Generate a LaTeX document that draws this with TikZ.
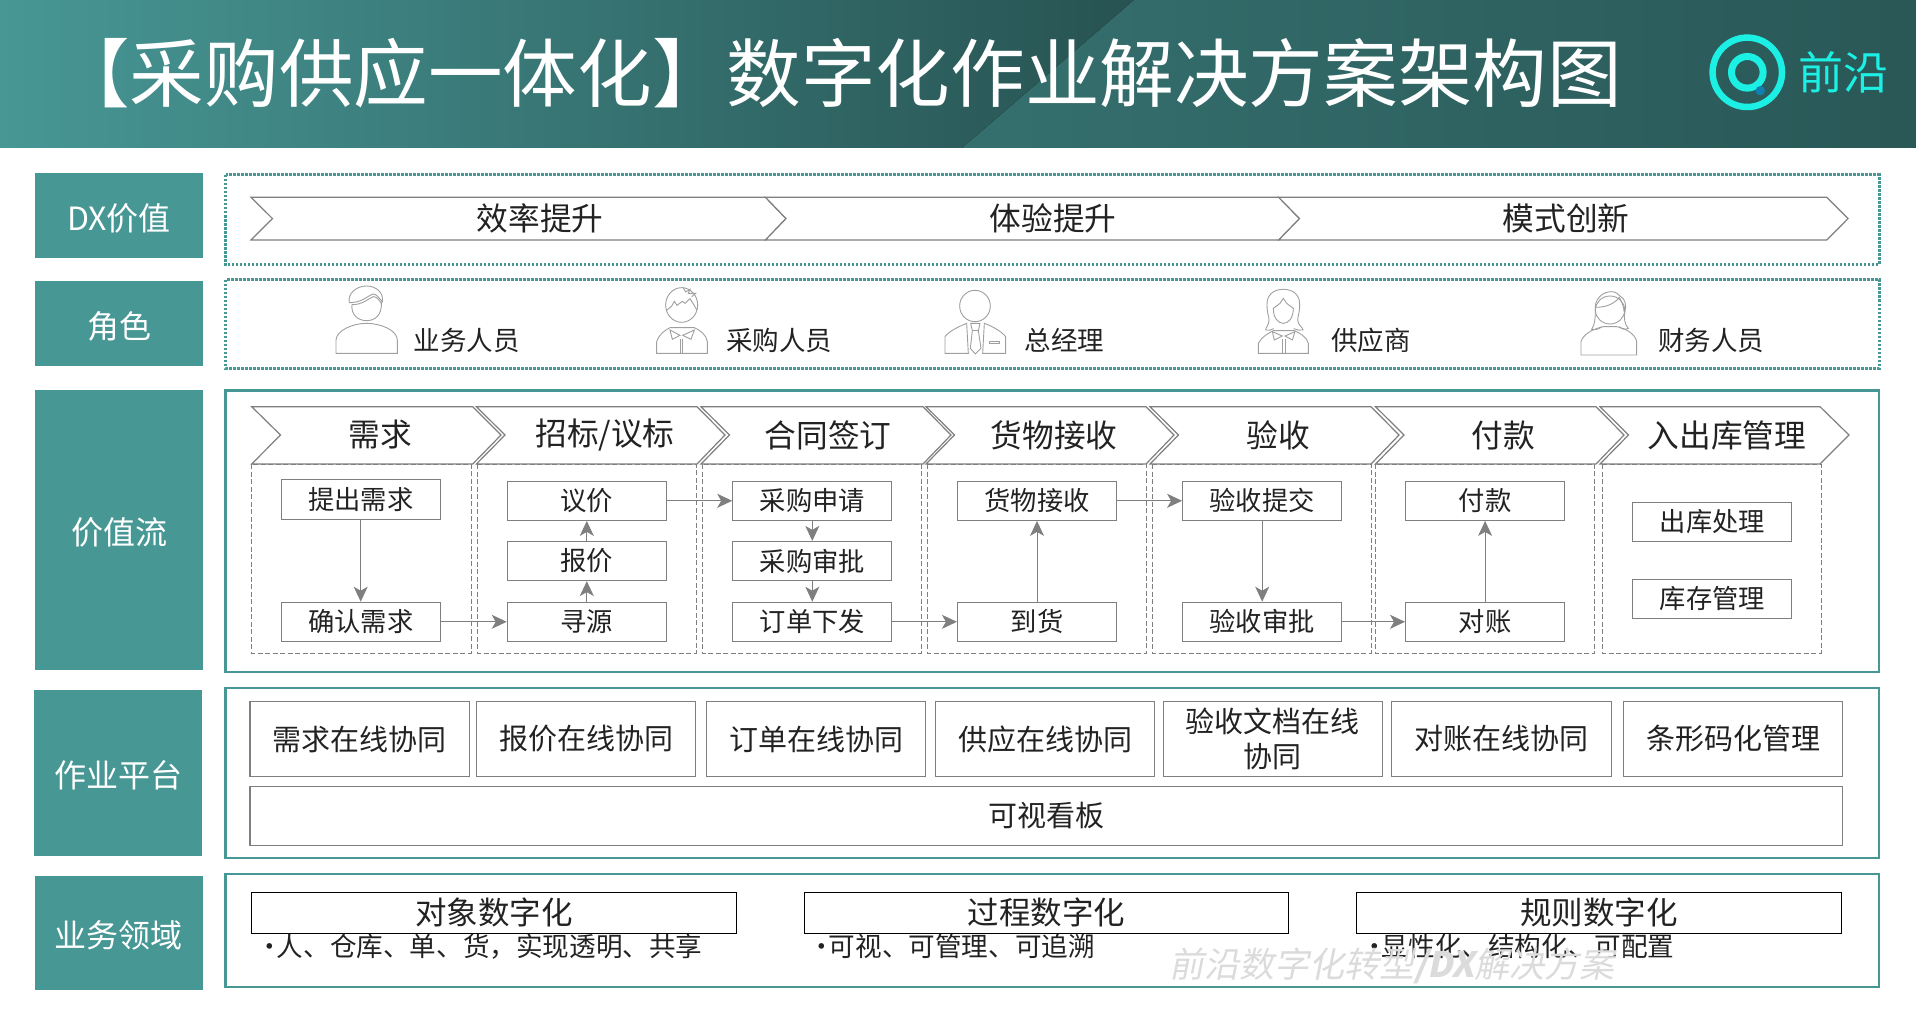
\documentclass[tikz,border=0pt]{standalone}
\usepackage{fontspec}
\setmainfont{Noto Sans CJK SC}
\newfontfamily\slantfont[FakeSlant=0.2]{Noto Sans CJK SC}
\usetikzlibrary{positioning,arrows.meta}
\definecolor{tealbox}{HTML}{479795}
\definecolor{cyanlogo}{HTML}{1CF0E4}
\definecolor{bluedot}{HTML}{1180B0}
\definecolor{linegray}{HTML}{7F7F7F}
\definecolor{inktext}{HTML}{222222}
\begin{document}
\begin{tikzpicture}[x=1pt,y=-1pt,
  rowlabel/.style={fill=tealbox,text=white,inner sep=0pt,minimum width=168pt,text height=32pt,text depth=3pt,font=\fontsize{32}{36}\selectfont},
  dotframe/.style={draw=tealbox,line width=3pt,dash pattern=on 2.5pt off 1.5pt},
  solidframe/.style={draw=tealbox,line width=2.5pt},
  chevron/.style={draw=linegray,line width=1.2pt,fill=white},
  headtext/.style={text=inktext,font=\fontsize{31.7}{36}\selectfont},
  roletext/.style={text=inktext,anchor=west,inner sep=0pt,font=\fontsize{26.5}{30}\selectfont},
  column/.style={draw=linegray,line width=0.8pt,dash pattern=on 5pt off 2.5pt},
  stepbox/.style={draw=linegray,line width=1.2pt,fill=white,text=inktext,inner sep=0pt,minimum width=159pt,minimum height=39pt,font=\fontsize{26.3}{30}\selectfont},
  flow/.style={draw=linegray,line width=1pt,-{Stealth[length=15pt,width=14pt,inset=4pt]}},
  platbox/.style={draw=linegray,line width=1.2pt,text=inktext,inner sep=0pt,minimum height=75.4pt,align=center,font=\fontsize{29}{35.7}\selectfont},
  domainbox/.style={draw=black,line width=1.3pt,text=inktext,inner sep=0pt,minimum width=485pt,minimum height=41pt,font=\fontsize{31.5}{36}\selectfont},
  bullettext/.style={text=inktext,anchor=west,inner sep=0pt,font=\fontsize{26.6}{30}\selectfont},
  person/.style={draw=gray!75,line width=0.9pt}]
\useasboundingbox (0,0) rectangle (1916,1019);
\fill[left color=tealbox,right color=tealbox!55!black] (0,0) -- (1134,0) -- (962,148) -- (0,148) -- cycle;
\fill[left color=tealbox!74!black,middle color=tealbox!58!black,right color=tealbox!58!black] (1134,0) -- (1916,0) -- (1916,148) -- (962,148) -- cycle;
\node[anchor=west,inner sep=0pt,text=white,font=\fontsize{74.6}{80}\selectfont] (title) at (55,73) {【采购供应一体化】数字化作业解决方案架构图};
\draw[cyanlogo,line width=6.5pt] (1747.3,72.3) circle (34.7pt);
\draw[cyanlogo,line width=7pt] (1747.3,72.3) circle (15.8pt);
\fill[bluedot] (1760.3,90.7) circle (4.7pt);
\node[inner sep=0pt,text=cyanlogo,font=\fontsize{45}{50}\selectfont] (brand) at (1843,72.7) {前沿};

\node[rowlabel,minimum height=85pt] (valuelabel) at (119,215.5) {DX价值};
\node[rowlabel,minimum height=85pt] (rolelabel) at (119,323.5) {角色};
\node[rowlabel,minimum height=280pt] (streamlabel) at (119,530) {价值流};
\node[rowlabel,minimum height=166pt] (platlabel) at (118,773) {作业平台};
\node[rowlabel,minimum height=114pt] (domainlabel) at (118.5,933) {业务领域};

\draw[dotframe] (225.5,175) rectangle (1879,264.7);
\draw[dotframe] (225.5,279.5) rectangle (1879,368);
\draw[solidframe] (225.5,390.7) rectangle (1879,672);
\draw[solidframe] (225.5,688) rectangle (1879,858);
\draw[solidframe] (225.5,874) rectangle (1879,987);

\draw[chevron] (251,197.3) -- (765.5,197.3) -- (786,218.6) -- (765.5,240) -- (251,240) -- (272.5,218.6) -- cycle;
\draw[chevron] (765.5,197.3) -- (1278.7,197.3) -- (1299.5,218.6) -- (1278.7,240) -- (765.5,240) -- (786,218.6) -- cycle;
\draw[chevron] (1278.7,197.3) -- (1826.8,197.3) -- (1848,218.6) -- (1826.8,240) -- (1278.7,240) -- (1299.5,218.6) -- cycle;
\node[headtext] (speed) at (540,218.6) {效率提升};
\node[headtext] (feel) at (1053,218.6) {体验提升};
\node[headtext] (mode) at (1566,218.6) {模式创新};

\begin{scope}[shift={(320,280)},x=0.3333pt,y=-0.3333pt]
\draw[person] (88,68) .. controls (82,40) and (110,18) .. (140,18) .. controls (170,18) and (192,40) .. (187,65) .. controls (178,55) and (168,40) .. (158,42) .. controls (140,50) and (125,68) .. (88,68) -- cycle;
\draw[person] (96,72) .. controls (92,105) and (115,122) .. (140,122) .. controls (165,122) and (187,105) .. (184,66);
\draw[person] (96,74) .. controls (130,74) and (145,55) .. (160,50) .. controls (170,50) and (178,60) .. (184,70);
\draw[person] (48,220) -- (48,180) .. controls (50,150) and (100,130) .. (140,130) .. controls (180,130) and (232,150) .. (232,180) -- (232,220) -- cycle;
\end{scope}
\node[roletext] (staff) at (413.5,340) {业务人员};

\begin{scope}[shift={(645,280)},x=0.3333pt,y=-0.3333pt]
\draw[person] (110,75) ellipse (48 and 52);
\draw[person] (114,22) -- (122,36) -- (135,28) -- (130,40) -- (152,40) -- (140,50);
\draw[person] (64,92) -- (80,78) -- (88,64) -- (96,76) -- (112,64) -- (120,70) -- (135,56) -- (156,90);
\draw[person] (35,220) -- (35,185) .. controls (40,165) and (60,150) .. (75,143) -- (148,143) .. controls (165,150) and (185,165) .. (187,185) -- (187,220) -- cycle;
\draw[person] (105,178) -- (105,220) (113,178) -- (113,220);
\draw[person] (75,150) -- (105,166) -- (82,178) -- cycle (148,150) -- (113,166) -- (138,178) -- cycle;
\end{scope}
\node[roletext] (buyer) at (726,340) {采购人员};

\begin{scope}[shift={(935,280)},x=0.3333pt,y=-0.3333pt]
\draw[person] (120,78) ellipse (46 and 47);
\draw[person] (95,130) -- (100,220) -- (30,220) -- (30,170) .. controls (40,155) and (70,140) .. (95,130) -- cycle;
\draw[person] (148,130) -- (143,220) -- (212,220) -- (212,170) .. controls (200,155) and (175,140) .. (148,130) -- cycle;
\draw[person] (107,130) -- (135,130) -- (130,152) -- (138,205) -- (121,222) -- (106,205) -- (112,152) -- cycle;
\draw[person] (112,152) -- (130,152);
\draw[person] (163,183) rectangle (193,190);
\end{scope}
\node[roletext] (manager) at (1024.6,340) {总经理};

\begin{scope}[shift={(1245,280)},x=0.3333pt,y=-0.3333pt]
\draw[person] (115,28) .. controls (85,28) and (65,45) .. (66,75) .. controls (66,100) and (72,110) .. (72,120) .. controls (72,135) and (62,142) .. (62,150) .. controls (70,152) and (80,150) .. (86,146);
\draw[person] (115,28) .. controls (145,28) and (165,45) .. (164,75) .. controls (164,100) and (158,110) .. (158,120) .. controls (158,135) and (174,142) .. (174,150) .. controls (166,152) and (155,150) .. (146,146);
\draw[person] (85,85) .. controls (85,115) and (100,130) .. (115,130) .. controls (130,130) and (145,115) .. (145,85) -- (125,70) -- (115,55) -- (105,70) -- cycle;
\draw[person] (40,220) -- (40,190) .. controls (50,170) and (70,160) .. (85,152) -- (148,152) .. controls (165,160) and (185,170) .. (190,190) -- (190,220) -- cycle;
\draw[person] (112,178) -- (112,220) (120,178) -- (120,220);
\draw[person] (82,155) -- (112,168) -- (88,180) -- cycle (150,155) -- (120,168) -- (142,180) -- cycle;
\end{scope}
\node[roletext] (supplier) at (1331,340) {供应商};

\begin{scope}[shift={(1570,280)},x=0.3333pt,y=-0.3333pt]
\draw[person] (76,90) .. controls (72,60) and (95,35) .. (125,35) .. controls (140,35) and (145,45) .. (150,48) .. controls (165,55) and (170,75) .. (165,95) .. controls (160,115) and (165,135) .. (175,145) .. controls (165,150) and (155,148) .. (148,140);
\draw[person] (76,90) .. controls (76,110) and (75,135) .. (65,148) .. controls (75,150) and (88,148) .. (95,140);
\draw[person] (120,90) ellipse (44 and 42);
\draw[person] (78,82) .. controls (110,82) and (135,70) .. (148,52) .. controls (155,65) and (162,80) .. (162,95);
\draw[person] (33,225) -- (33,185) .. controls (40,160) and (75,145) .. (100,140) -- (140,140) .. controls (165,145) and (195,160) .. (200,185) -- (200,225) -- cycle;
\end{scope}
\node[roletext] (finance) at (1658,340) {财务人员};

\draw[chevron] (251.7,406.7) -- (472.7,406.7) -- (501,435) -- (472.7,464) -- (251.7,464) -- (280.5,435) -- cycle;
\draw[chevron] (476.4,406.7) -- (697,406.7) -- (725,435) -- (697,464) -- (476.4,464) -- (505,435) -- cycle;
\draw[chevron] (701,406.7) -- (923,406.7) -- (951,435) -- (923,464) -- (701,464) -- (729.5,435) -- cycle;
\draw[chevron] (926,406.7) -- (1146,406.7) -- (1174,435) -- (1146,464) -- (926,464) -- (954.5,435) -- cycle;
\draw[chevron] (1150,406.7) -- (1371,406.7) -- (1399,435) -- (1371,464) -- (1150,464) -- (1178.5,435) -- cycle;
\draw[chevron] (1375.5,406.7) -- (1596,406.7) -- (1624,435) -- (1596,464) -- (1375.5,464) -- (1404,435) -- cycle;
\draw[chevron] (1600,406.7) -- (1820,406.7) -- (1849,435) -- (1820,464) -- (1600,464) -- (1628.5,435) -- cycle;
\node[headtext] (demand) at (380,435) {需求};
\node[headtext] (bidding) at (605,435) {招标/议标};
\node[headtext] (contract) at (828,435) {合同签订};
\node[headtext] (receipt) at (1054,435) {货物接收};
\node[headtext] (inspect) at (1278,435) {验收};
\node[headtext] (payment) at (1503,435) {付款};
\node[headtext] (stock) at (1727,435) {入出库管理};

\draw[column] (251.7,464) rectangle (471,653);
\draw[column] (477.6,464) rectangle (696,653);
\draw[column] (702.4,464) rectangle (921.6,653);
\draw[column] (927.7,464) rectangle (1146.4,653);
\draw[column] (1152.6,464) rectangle (1371,653);
\draw[column] (1375.5,464) rectangle (1594.7,653);
\draw[column] (1602.7,464) rectangle (1821,653);

\node[stepbox,minimum height=40pt] (raise) at (360.7,499.3) {提出需求};
\node[stepbox] (confirm) at (360.7,621.8) {确认需求};
\node[stepbox] (negotiate) at (586.8,500.8) {议价};
\node[stepbox] (quote) at (586.8,561) {报价};
\node[stepbox] (source) at (586.8,621.8) {寻源};
\node[stepbox] (request) at (812.3,500.8) {采购申请};
\node[stepbox] (approve) at (812.3,561) {采购审批};
\node[stepbox] (order) at (812.3,621.8) {订单下发};
\node[stepbox] (goods) at (1037,500.8) {货物接收};
\node[stepbox] (arrive) at (1037,621.8) {到货};
\node[stepbox] (submit) at (1262.2,500.8) {验收提交};
\node[stepbox] (review) at (1262.2,621.8) {验收审批};
\node[stepbox] (pay) at (1485.1,500.8) {付款};
\node[stepbox] (reconcile) at (1485.1,621.8) {对账};
\node[stepbox] (outbound) at (1712.3,522) {出库处理};
\node[stepbox] (inventory) at (1712.3,599) {库存管理};

\draw[flow] (raise) -- (confirm);
\draw[flow] (confirm) -- (source);
\draw[flow] (source) -- (quote);
\draw[flow] (quote) -- (negotiate);
\draw[flow] (negotiate) -- (request);
\draw[flow] (request) -- (approve);
\draw[flow] (approve) -- (order);
\draw[flow] (order) -- (arrive);
\draw[flow] (arrive) -- (goods);
\draw[flow] (goods) -- (submit);
\draw[flow] (submit) -- (review);
\draw[flow] (review) -- (reconcile);
\draw[flow] (reconcile) -- (pay);

\node[platbox,minimum width=219.7pt] (plat1) at (359.9,739) {需求在线协同};
\node[platbox,minimum width=219.3pt] (plat2) at (586,739) {报价在线协同};
\node[platbox,minimum width=218.6pt] (plat3) at (816,739) {订单在线协同};
\node[platbox,minimum width=218.7pt] (plat4) at (1045,739) {供应在线协同};
\node[platbox,minimum width=218.6pt] (plat5) at (1272.9,739) {验收文档在线\\协同};
\node[platbox,minimum width=219.8pt] (plat6) at (1501.3,739) {对账在线协同};
\node[platbox,minimum width=219.2pt] (plat7) at (1733.1,739) {条形码化管理};
\node[platbox,minimum width=1592.7pt,minimum height=58.6pt] (board) at (1046.3,816) {可视看板};

\node[domainbox] (objects) at (494.2,912.8) {对象数字化};
\node[domainbox,minimum width=484pt] (process) at (1046.5,912.8) {过程数字化};
\node[domainbox] (rules) at (1599,912.8) {规则数字化};
\node[bullettext] (objectnote) at (256,946.7) {•\hspace{-6pt}人、仓库、单、货，实现透明、共享};
\node[bullettext] (processnote) at (808,946.7) {•\hspace{-6pt}可视、可管理、可追溯};
\node[bullettext] (rulenote) at (1361,946.7) {•\hspace{-6pt}显性化、结构化、可配置};
\node[inner sep=0pt,text=gray!28,font=\slantfont\fontsize{35}{40}\selectfont] (mark) at (1392,966) {前沿数字化转型{\bfseries /DX}解决方案};
\end{tikzpicture}
\end{document}
